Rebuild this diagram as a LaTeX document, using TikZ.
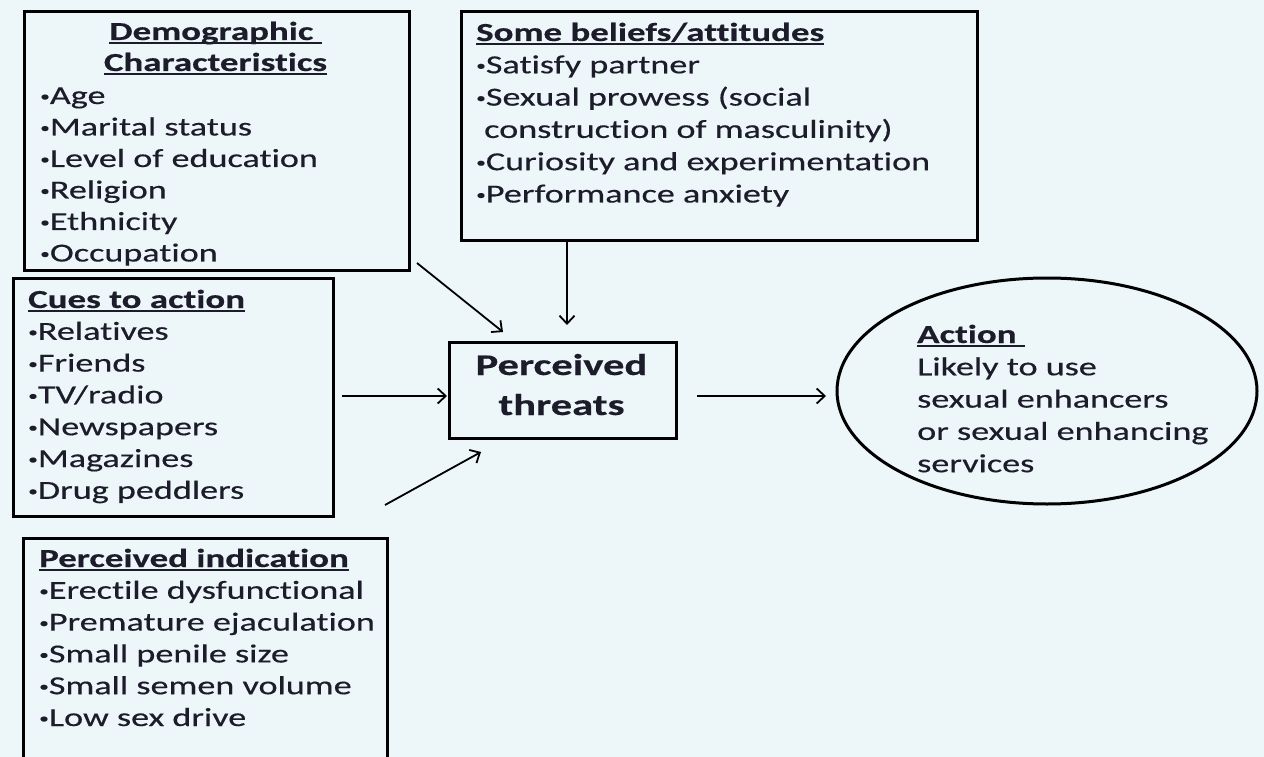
\documentclass[tikz,border=0pt]{standalone}
\usepackage{fontspec}
\setmainfont{Carlito}[FakeStretch=1.39, FakeBold=0.4, Ligatures=NoCommon, BoldFeatures={FakeStretch=1.42}]
\usetikzlibrary{arrows.meta,shapes.geometric}
\definecolor{bgc}{RGB}{237,246,248}
\definecolor{txc}{RGB}{28,28,42}
\newcommand\ulbf[1]{\leavevmode\setbox0\hbox{\textbf{#1}}\rlap{\raisebox{-3.8pt}{\rule{\wd0}{1.8pt}}}\box0}
\newcommand\bul{\raisebox{3pt}{\fontsize{14}{14}\selectfont•}}
\newcommand\lst[2]{\parbox[t]{600pt}{\fontsize{26}{#1}\selectfont\raggedright #2}}
\begin{document}
\begin{tikzpicture}[x=1pt,y=-1pt,
  box/.style={draw=black, line width=3pt, rectangle, inner sep=0pt, anchor=north west},
  txt/.style={inner sep=0pt, anchor=base west, text=txc},
  arr/.style={line width=1.8pt, -{Straight Barb[length=8pt,width=15pt,line width=1.8pt]}}]
\fill[bgc] (0,0) rectangle (1264,757);
\useasboundingbox (0,0) rectangle (1264,757);

% boxes
\node[box, minimum width=385pt, minimum height=259pt] (demo) at (23,10) {};
\node[box, minimum width=320pt, minimum height=238pt] (cues) at (12,277) {};
\node[box, minimum width=364pt, minimum height=222pt] (indic) at (22,537) {};
\node[box, minimum width=516pt, minimum height=229pt] (belief) at (460,10) {};
\node[box, minimum width=227pt, minimum height=96pt] (threat) at (448,341) {};
\node[draw=black, line width=3pt, ellipse, minimum width=420pt, minimum height=226pt, inner sep=0pt] (action) at (1047,391) {};

% texts
\node[txt, anchor=base] (demohead) at (215.5,40) {\parbox[t]{340pt}{\centering\fontsize{26}{31}\selectfont\ulbf{Demographic\ }\\\ulbf{Characteristics}}};
\node[txt] (demolist) at (40,104) {\lst{31.5}{\bul Age\\\bul Marital status\\\bul Level of education\\\bul Religion\\\bul Ethnicity\\\bul Occupation}};

\node[txt] (cueslist) at (28,308) {\lst{31.8}{\ulbf{Cues to action}\\\bul Relatives\\\bul Friends\\\bul TV/radio\\\bul Newspapers\\\bul Magazines\\\bul Drug peddlers}};

\node[txt] (indiclist) at (39,567) {\lst{31.8}{\ulbf{Perceived indication}\\\bul Erectile dysfunctional\\\bul Premature ejaculation\\\bul Small penile size\\\bul Small semen volume\\\bul Low sex drive}};

\node[txt] (belieflist) at (476,41) {\lst{32.3}{\ulbf{Some beliefs/attitudes}\\\bul Satisfy partner\\\bul Sexual prowess (social\\\hspace*{8pt}construction of masculinity)\\\bul Curiosity and experimentation\\\bul Performance anxiety}};

\node[txt, anchor=base] (threattext) at (561.5,375) {\parbox[t]{220pt}{\centering\fontsize{30}{40}\selectfont\textbf{Perceived}\\\textbf{threats}}};

\node[txt] (actiontext) at (917,343) {\lst{32.3}{\ulbf{Action\ }\\Likely to use\\sexual enhancers\\or sexual enhancing\\services}};

% connector ends
\coordinate (d1) at (417,263);
\coordinate (d2) at (503,332);
\coordinate (b1) at (567,239);
\coordinate (b2) at (567,325);
\coordinate (c1) at (342,396);
\coordinate (c2) at (447,396);
\coordinate (i1) at (385,505);
\coordinate (i2) at (481,452);
\coordinate (t1) at (697,396);
\coordinate (t2) at (826,396);

\draw[arr] (d1) -- (d2);
\draw[arr] (b1) -- (b2);
\draw[arr] (c1) -- (c2);
\draw[arr] (i1) -- (i2);
\draw[arr] (t1) -- (t2);
\end{tikzpicture}
\end{document}
